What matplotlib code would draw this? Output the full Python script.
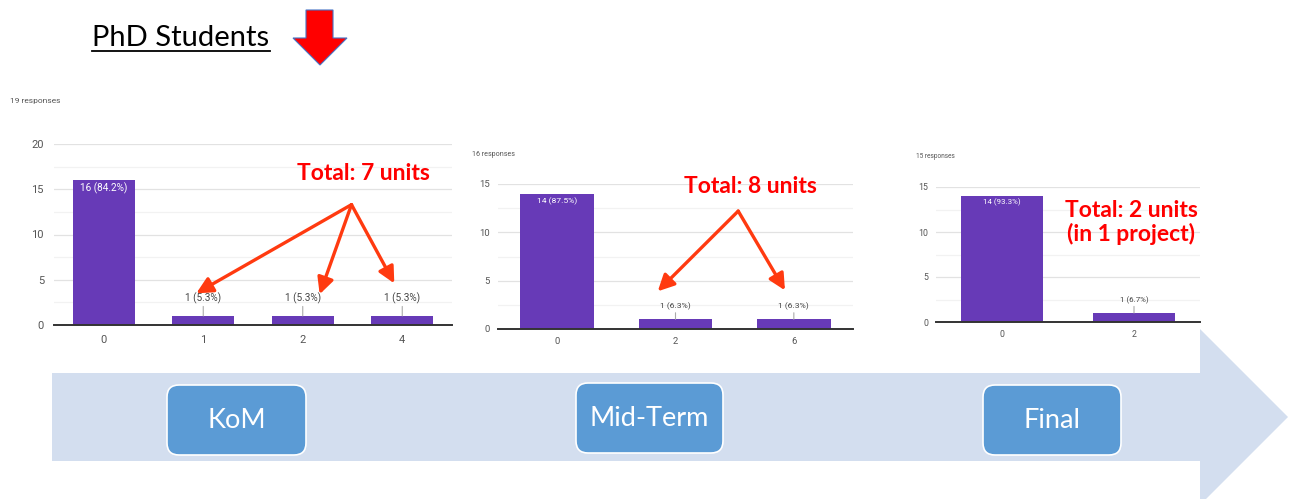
import numpy as np
import matplotlib
matplotlib.use("Agg")
import matplotlib.pyplot as plt
from matplotlib.patches import Rectangle, Polygon, FancyBboxPatch

# Survey results (Google Forms charts) for the three project stages
kom_cats = ['0', '1', '2', '4']
kom_counts = [16, 1, 1, 1]
kom_pcts = ['84.2', '5.3', '5.3', '5.3']
kom_responses = 19

mid_cats = ['0', '2', '6']
mid_counts = [14, 1, 1]
mid_pcts = ['87.5', '6.3', '6.3']
mid_responses = 16

fin_cats = ['0', '2']
fin_counts = [14, 1]
fin_pcts = ['93.3', '6.7']
fin_responses = 15

stages = ['KoM', 'Mid-Term', 'Final']
totals = ['Total: 7 units', 'Total: 8 units', 'Total: 2 units\n(in 1 project)']

W, H = 1294, 499
PURPLE = '#673AB7'
RED = '#FF0000'
ARROW_RED = '#FF3A10'


def px_rect(x0, y0, x1, y1):
    return [x0 / W, 1 - y1 / H, (x1 - x0) / W, (y1 - y0) / H]


fig = plt.figure(figsize=(W / 100, H / 100), dpi=100)

# background layer in pixel coordinates: title, arrow, timeline
bg = fig.add_axes([0, 0, 1, 1])
bg.set_xlim(0, W)
bg.set_ylim(H, 0)
bg.axis('off')

bg.text(92, 38, 'PhD Students', fontsize=21, family='Lato', va='center', ha='left')
bg.plot([92, 270], [51, 51], color='black', lw=1.3)
bg.add_patch(Polygon([(306, 10), (333, 10), (333, 38), (347, 38), (320, 65),
                      (293, 38), (306, 38)], closed=True, facecolor=RED,
                     edgecolor='#4472C4', lw=0.8))

bg.add_patch(Rectangle((52, 373), 1148, 88, facecolor='#D3DEEF', edgecolor='none'))
bg.add_patch(Polygon([(1200, 329), (1288, 417), (1200, 505)], closed=True,
                     facecolor='#D3DEEF', edgecolor='none'))

box_pos = [(167, 385, 139, 70), (576, 383, 147, 70), (983, 385, 138, 70)]
for name, (bx, by, bw, bh) in zip(stages, box_pos):
    bg.add_patch(FancyBboxPatch((bx + 12, by + 12), bw - 24, bh - 24,
                                boxstyle='round,pad=12', facecolor='#5B9BD5',
                                edgecolor='white', lw=1.2))
    bg.text(bx + bw / 2, by + bh / 2, name, color='white', fontsize=19.5,
            family='Lato', ha='center', va='center')


def draw_panel(rect, cats, counts, pcts, responses, ymax, fs, resp_xy, lab_off):
    ax = fig.add_axes(rect)
    x = np.arange(len(cats))
    ax.bar(x, counts, width=0.62, color=PURPLE, zorder=3)
    ax.set_xlim(-0.5, len(cats) - 0.5)
    ax.set_ylim(0, ymax)
    ax.set_yticks(np.arange(0, ymax + 1, 5))
    ax.set_yticks(np.arange(2.5, ymax, 5), minor=True)
    ax.grid(axis='y', which='major', color='#e2e2e2', lw=0.9, zorder=0)
    ax.grid(axis='y', which='minor', color='#f2f2f2', lw=0.9, zorder=0)
    ax.set_xticks(x)
    ax.set_xticklabels(cats)
    ax.tick_params(which='both', length=0)
    ax.tick_params(labelsize=fs, colors='#555555', pad=fs * 0.9)
    for lab in ax.get_xticklabels() + ax.get_yticklabels():
        lab.set_family('Roboto')
    for side in ['top', 'right', 'left']:
        ax.spines[side].set_visible(False)
    ax.spines['bottom'].set_color('#333333')
    ax.spines['bottom'].set_linewidth(1.4)
    ax.spines['bottom'].set_zorder(4)
    for i, (c, p) in enumerate(zip(counts, pcts)):
        txt = f'{c} ({p}%)'
        if c > ymax * 0.3:
            ax.annotate(txt, (i, c), xytext=(0, -fs * 0.75), textcoords='offset points',
                        ha='center', va='center', color='white', fontsize=fs * 0.9,
                        family='Roboto', zorder=5)
        else:
            ax.annotate(txt, (i, c), xytext=(0, lab_off), textcoords='offset points',
                        ha='center', va='center', color='#444444', fontsize=fs * 0.9,
                        family='Roboto', zorder=5,
                        arrowprops=dict(arrowstyle='-', color='#aaaaaa', lw=0.8,
                                        shrinkA=0, shrinkB=0))
    fig.text(resp_xy[0] / W, 1 - resp_xy[1] / H, f'{responses} responses',
             fontsize=fs * 0.75, color='#555555', family='Roboto', va='center')
    return ax


ax1 = draw_panel(px_rect(54, 144, 452, 325), kom_cats, kom_counts, kom_pcts,
                 kom_responses, 20, 8, (10, 101), 13)
ax2 = draw_panel(px_rect(498, 184, 853, 329), mid_cats, mid_counts, mid_pcts,
                 mid_responses, 15, 6.8, (472, 154), 9.5)
ax3 = draw_panel(px_rect(936, 187, 1200, 322), fin_cats, fin_counts, fin_pcts,
                 fin_responses, 15, 6.3, (916, 157), 9.5)

arrow_kw = dict(arrowstyle='-|>,head_length=0.7,head_width=0.35', color=ARROW_RED,
                lw=2.4, shrinkA=0, shrinkB=0, mutation_scale=14)

ax1.text(2.61, 16.7, totals[0], color=RED, fontsize=16.5, fontweight='bold',
         family='Lato', ha='center', va='center', zorder=6)
for tx, ty in [(0.93, 3.5), (2.17, 3.4), (2.92, 4.6)]:
    ax1.annotate('', xy=(tx, ty), xytext=(2.49, 13.3), arrowprops=arrow_kw, zorder=6)

ax2.text(1.63, 14.7, totals[1], color=RED, fontsize=16.5, fontweight='bold',
         family='Lato', ha='center', va='center', zorder=6)
for tx, ty in [(0.85, 3.9), (1.925, 4.0)]:
    ax2.annotate('', xy=(tx, ty), xytext=(1.53, 12.2), arrowprops=arrow_kw, zorder=6)

ax3.text(0.977, 11.1, totals[2], color=RED, fontsize=16.5, fontweight='bold',
         family='Lato', ha='center', va='center', linespacing=1.1, zorder=6)

fig.savefig('out.png', dpi=100)
